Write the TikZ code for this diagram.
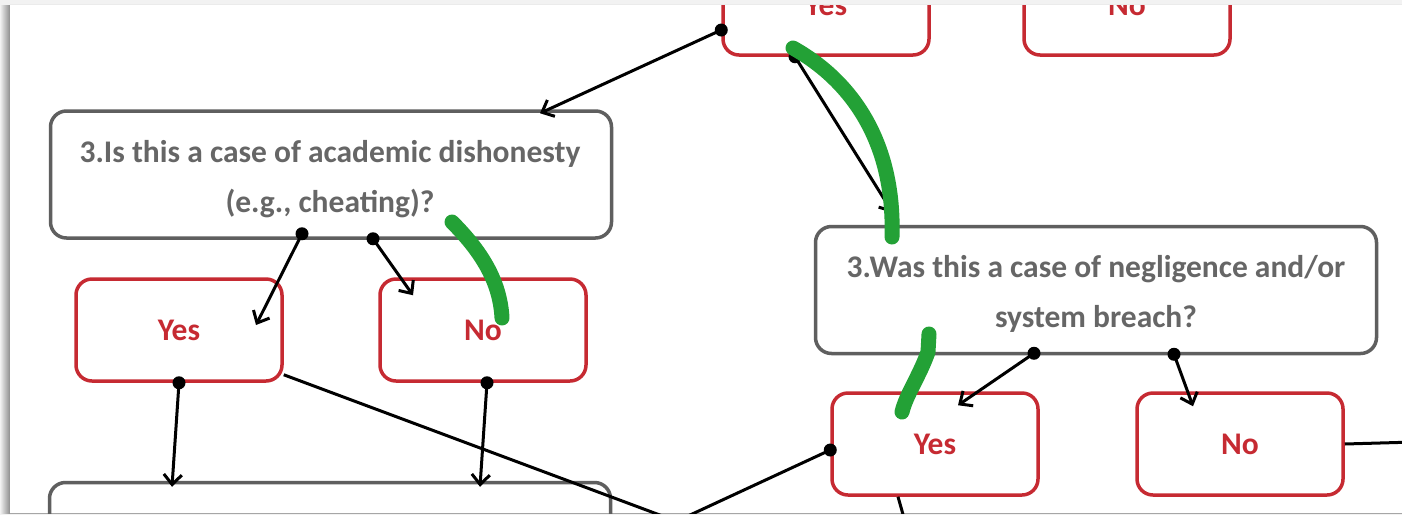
\documentclass[tikz,border=0pt]{standalone}
\usepackage{fontspec}
\setmainfont{Carlito}
\usetikzlibrary{arrows.meta,calc}
\definecolor{boxred}{HTML}{C62A32}
\definecolor{boxgray}{HTML}{5F5F5F}
\definecolor{txtgray}{HTML}{666666}
\definecolor{marker}{HTML}{23A136}
\definecolor{pagebg}{HTML}{F2F2F2}
\tikzset{
  qbox/.style={draw=boxgray, line width=3.5, rounded corners=16, minimum width=561,
    minimum height=127, inner sep=0},
  qtext/.style={text=txtgray, align=center, inner sep=0,
    font=\bfseries\fontsize{31.5}{50}\selectfont},
  abox/.style={draw=boxred, line width=3.5, rounded corners=16, minimum width=206,
    minimum height=102, text=boxred, inner sep=0, font=\bfseries\fontsize{31.5}{36}\selectfont},
  conn/.style={line width=3, -{Straight Barb[length=10,width=18,line width=3]}},
  link/.style={line width=3},
  dot/.style={circle, fill=black, inner sep=0, minimum size=13},
  ink/.style={marker, line width=15, line cap=round, line join=round},
}
\begin{document}
\begin{tikzpicture}[x=1pt, y=-1pt]
  % sheet with its shadow
  \useasboundingbox (0,0) rectangle (1402,515);
  \fill[pagebg] (0,0) rectangle (1402,515);
  \shade[left color=pagebg, right color=black!45] (0,5) rectangle (10,513);
  \fill[white] (10,5) rectangle (1402,513);
  \draw[black!35, line width=1] (10,513.5) -- (1402,513.5);
  \draw[black!8, line width=1] (10,4.5) -- (1402,4.5);

  \begin{scope}
    \clip (10,5) rectangle (1402,513);

    % answer boxes of the previous question
    \node[abox, minimum height=100] (yesT) at (826,5) {Yes};
    \node[abox, minimum height=100] (noT)  at (1127,5) {No};

    % question boxes and their texts
    \node[qbox] (qA) at (331,174.5) {};
    \node[qtext] (qAt) at ($(qA.center)+(-1,5)$) {3.Is this a case of academic dishonesty\\(e.g., cheating)?};
    \node[qbox] (qB) at (1096,290) {};
    \node[qtext] (qBt) at ($(qB.center)+(0,4)$) {3.Was this a case of negligence and/or\\system breach?};
    \node[qbox] (qC) at (330,546) {};

    % answer boxes
    \node[abox] (yesA) at (179,330) {Yes};
    \node[abox] (noA)  at (483,330) {No};
    \node[abox] (yesB) at (935,444) {Yes};
    \node[abox] (noB)  at (1240,444) {No};

    % connector anchors
    \coordinate (d1) at ($(yesT.west)+(0,25)$);
    \coordinate (e1) at ($(qA.north)+(209,4)$);
    \coordinate (d2) at ($(yesT.south)+(-31,0)$);
    \coordinate (e2) at ($(qB.north west)+(79,-12)$);
    \coordinate (d3) at ($(qA.south)+(-29,-6)$);
    \coordinate (e3) at ($(yesA.center)+(77,-5)$);
    \coordinate (d4) at ($(qA.south)+(42,-1)$);
    \coordinate (e4) at ($(noA.north)+(-70,18)$);
    \coordinate (d5) at (yesA.south);
    \coordinate (e5) at ($(qC.north)+(-158,6)$);
    \coordinate (d6) at ($(noA.south)+(4,0)$);
    \coordinate (e6) at ($(qC.north)+(150,6)$);
    \coordinate (d7) at ($(qB.south)+(-62,-2)$);
    \coordinate (e7) at ($(yesB.north)+(23,14)$);
    \coordinate (d8) at ($(qB.south)+(78,-1)$);
    \coordinate (e8) at ($(noB.north)+(-47,15)$);
    \coordinate (d9) at ($(yesB.west)+(0,6)$);
    \coordinate (f9) at (662,528);
    \coordinate (fA) at (700,530);
    \coordinate (fB) at (906,525);
    \coordinate (fC) at (1415,442);
    \coordinate (gB) at ($(yesB.south)+(-37,0)$);

    % connectors
    \draw[conn] (d1) -- (e1);
    \draw[conn] (d2) -- (e2);
    \draw[conn] (d3) -- (e3);
    \draw[conn] (d4) -- (e4);
    \draw[conn] (d5) -- (e5);
    \draw[conn] (d6) -- (e6);
    \draw[conn] (d7) -- (e7);
    \draw[conn] (d8) -- (e8);
    \draw[link] (yesA.south east) ++(0,-8) -- (fA);
    \draw[link] (d9) -- (f9);
    \draw[link] (gB) -- (fB);
    \draw[link] (noB.east) -- (fC);

    \foreach \p in {d1,d2,d3,d4,d5,d6,d7,d8,d9}
      \node[dot] at (\p) {};

    % marker strokes
    \draw[ink] (793,48) .. controls (850,80) and (895,140) .. (892,237);
    \draw[ink] (452,222) .. controls (480,250) and (500,280) .. (502,318);
    \draw[ink] (929,334) -- (928,352) .. controls (920,375) and (906,395) .. (902,412);
  \end{scope}
\end{tikzpicture}
\end{document}
